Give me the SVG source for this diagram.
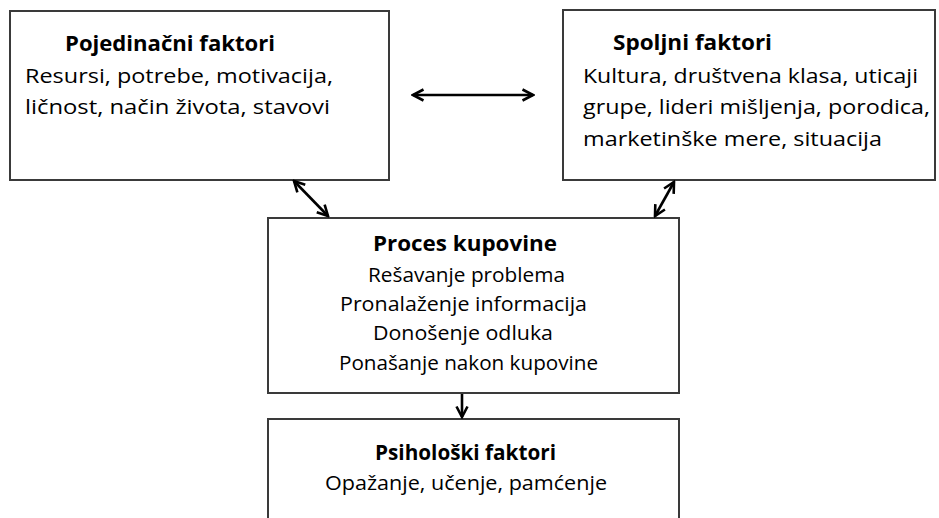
<svg xmlns="http://www.w3.org/2000/svg" width="939" height="518" viewBox="0 0 939 518">
<defs>
<marker id="ah" viewBox="0 0 14 14" refX="12" refY="7" markerWidth="14" markerHeight="14" markerUnits="userSpaceOnUse" orient="auto-start-reverse">
<path d="M1.5,1.5 L12,7 L1.5,12.5" fill="none" stroke="#000" stroke-width="2.6"/>
</marker>
<style>
.box{fill:#fff;stroke:#3a3a3a;stroke-width:2}
.t{font-family:"Open Sans","Noto Sans","Liberation Sans",sans-serif;font-size:20.5px;fill:#000}
.b{font-weight:bold}
.ar{fill:none;stroke:#000;stroke-width:2.6;marker-start:url(#ah);marker-end:url(#ah)}
.ae{fill:none;stroke:#000;stroke-width:2.6;marker-end:url(#ah)}
</style>
</defs>
<rect width="939" height="518" fill="#fff"/>
<g id="pojedinacni">
<rect class="box" x="10" y="11" width="379" height="169"/>
<text class="t b" x="65" y="51" textLength="210" lengthAdjust="spacingAndGlyphs">Pojedinačni faktori</text>
<text class="t" x="25" y="83" textLength="308" lengthAdjust="spacingAndGlyphs">Resursi, potrebe, motivacija,</text>
<text class="t" x="25" y="114" textLength="305" lengthAdjust="spacingAndGlyphs">ličnost, način života, stavovi</text>
</g>
<g id="spoljni">
<rect class="box" x="563" y="10" width="372" height="170"/>
<text class="t b" x="613" y="50" textLength="159" lengthAdjust="spacingAndGlyphs">Spoljni faktori</text>
<text class="t" x="583" y="83" textLength="335" lengthAdjust="spacingAndGlyphs">Kultura, društvena klasa, uticaji</text>
<text class="t" x="583" y="114" textLength="347" lengthAdjust="spacingAndGlyphs">grupe, lideri mišljenja, porodica,</text>
<text class="t" x="583" y="146" textLength="299" lengthAdjust="spacingAndGlyphs">marketinške mere, situacija</text>
</g>
<g id="proces">
<rect class="box" x="268" y="218" width="411" height="175"/>
<text class="t b" x="373" y="251" textLength="184" lengthAdjust="spacingAndGlyphs">Proces kupovine</text>
<text class="t" x="368" y="282" textLength="197" lengthAdjust="spacingAndGlyphs">Rešavanje problema</text>
<text class="t" x="340" y="311" textLength="247" lengthAdjust="spacingAndGlyphs">Pronalaženje informacija</text>
<text class="t" x="373" y="340" textLength="180" lengthAdjust="spacingAndGlyphs">Donošenje odluka</text>
<text class="t" x="339" y="370" textLength="259" lengthAdjust="spacingAndGlyphs">Ponašanje nakon kupovine</text>
</g>
<g id="psiholoski">
<path class="box" d="M268,530 V419 H679 V530"/>
<text class="t b" x="375" y="460" textLength="181" lengthAdjust="spacingAndGlyphs">Psihološki faktori</text>
<text class="t" x="325" y="490" textLength="282" lengthAdjust="spacingAndGlyphs">Opažanje, učenje, pamćenje</text>
</g>
<g id="connectors">
<line class="ar" x1="413" y1="95" x2="533" y2="95"/>
<line class="ar" x1="294" y1="181" x2="328" y2="216"/>
<line class="ar" x1="674" y1="182" x2="655" y2="216"/>
<line class="ae" x1="462" y1="394" x2="462" y2="417"/>
</g>
</svg>
